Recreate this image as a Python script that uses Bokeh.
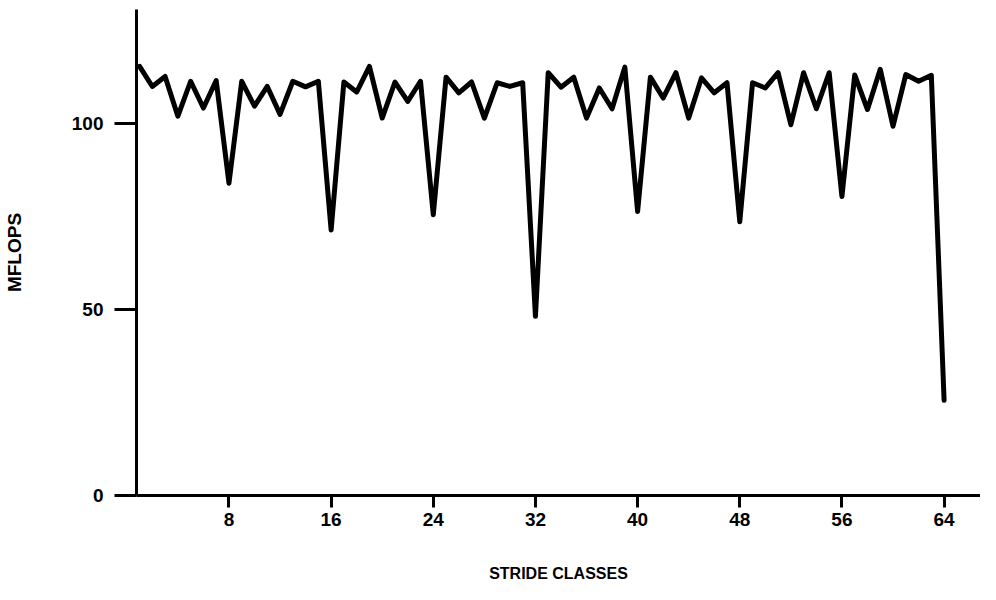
from bokeh.plotting import figure
from bokeh.models import FixedTicker, Range1d
from bokeh.embed import file_html
from bokeh.resources import INLINE

# Data
stride_class = list(range(1, 65))
mflops = [115.4, 110.0, 112.7, 102.0, 111.4, 104.2, 111.6, 84.0,
          111.4, 104.7, 110.0, 102.5, 111.4, 109.9, 111.4, 71.4,
          111.2, 108.5, 115.4, 101.5, 111.2, 106.0, 111.4, 75.5,
          112.5, 108.3, 111.2, 101.5, 111.0, 110.0, 111.0, 48.2,
          113.7, 109.8, 112.5, 101.5, 109.6, 104.0, 115.2, 76.4,
          112.5, 106.9, 113.7, 101.5, 112.3, 108.3, 111.0, 73.6,
          111.0, 109.6, 113.7, 99.7, 113.7, 104.0, 113.7, 80.4,
          113.1, 103.8, 114.6, 99.3, 113.2, 111.4, 113.0, 25.6]
x_ticks = [8, 16, 24, 32, 40, 48, 56, 64]
y_ticks = [0, 50, 100]

FONT = "Liberation Sans"

p = figure(width=980, height=584, output_backend="svg", toolbar_location=None,
           x_range=Range1d(0.76, 66.85), y_range=Range1d(0, 130.7),
           min_border_left=135, min_border_right=0, min_border_top=9,
           min_border_bottom=80)
p.outline_line_color = None
p.grid.visible = False
p.background_fill_color = "white"

p.line(stride_class, mflops, line_color="black", line_width=5,
       line_join="round", line_cap="round")

for ax in (p.xaxis[0], p.yaxis[0]):
    ax.axis_line_color = "black"
    ax.axis_line_width = 3
    ax.major_tick_line_width = 3
    ax.major_tick_line_color = "black"
    ax.major_tick_in = 0
    ax.minor_tick_line_color = None
    ax.major_label_text_font = FONT
    ax.major_label_text_font_style = "bold"
    ax.major_label_text_font_size = "19px"
    ax.major_label_text_color = "black"
    ax.axis_label_text_font = FONT
    ax.axis_label_text_font_style = "bold"
    ax.axis_label_text_color = "black"

p.xaxis.ticker = FixedTicker(ticks=x_ticks)
p.xaxis.major_tick_out = 12
p.xaxis.major_label_standoff = 5
p.xaxis.axis_label = "STRIDE CLASSES"
p.xaxis.axis_label_text_font_size = "16px"
p.xaxis.axis_label_standoff = 36

p.yaxis.ticker = FixedTicker(ticks=y_ticks)
p.yaxis.major_tick_out = 22
p.yaxis.major_label_standoff = 11
p.yaxis.axis_label = "MFLOPS"
p.yaxis.axis_label_text_font_size = "19px"
p.yaxis.axis_label_standoff = 44

open("out.html", "w").write(file_html(p, INLINE))
